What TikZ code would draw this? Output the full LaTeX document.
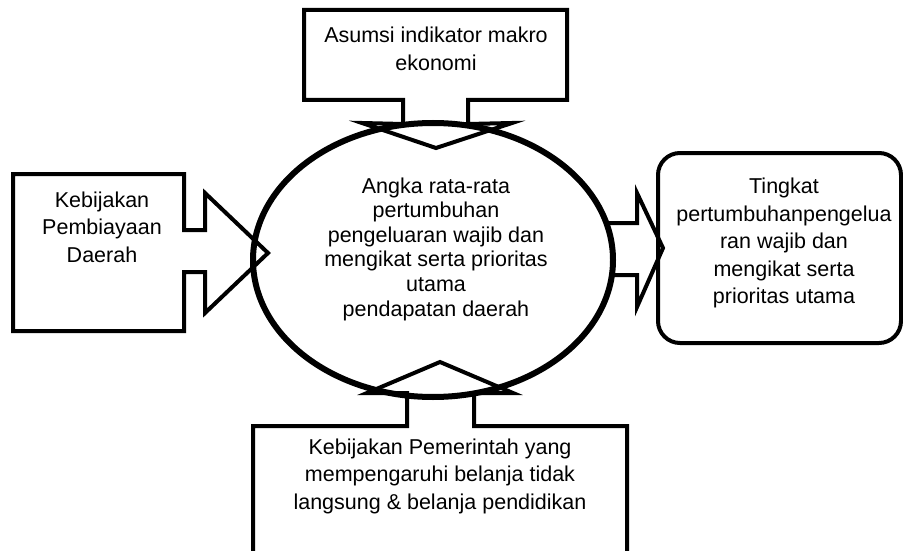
\documentclass[tikz,border=0pt]{standalone}
\usepackage{fontspec}
\setmainfont{Liberation Sans}
\usetikzlibrary{shapes.geometric}
\tikzset{
  kotak/.style={draw=black, fill=white, line width=4pt, line join=miter},
  isi/.style={align=center, font=\fontsize{21.5}{27.5}\selectfont},
  isirapat/.style={align=center, font=\fontsize{21.5}{24.6}\selectfont}
}
\begin{document}
\begin{tikzpicture}[x=1pt, y=-1pt]
  \useasboundingbox (0,0) rectangle (903,551);
  \clip (0,0) rectangle (903,551);
  \draw[kotak]
    (595,223) -- (637,223) -- (637,193) -- (663,248) -- (637,307) -- (637,275) -- (595,275);
  \node[draw, ellipse, line width=6pt, fill=white, inner sep=0pt,
    minimum width=360pt, minimum height=274pt] (pusat) at (433,260) {};
  \node[isirapat] (teks pusat) at (436,249)
    {Angka rata-rata\\pertumbuhan\\pengeluaran wajib dan\\mengikat serta prioritas\\utama\\pendapatan daerah};
  \begin{scope}[kotak]
    \draw (304,10) -- (567,10) -- (567,100) -- (468,100) -- (468,124) -- (512,123)
      -- (436,148) -- (362,123) -- (403,124) -- (403,100) -- (304,100) -- cycle;
    \draw (13,174) -- (184,174) -- (184,230) -- (205,230) -- (205,193) -- (268,253)
      -- (205,313) -- (205,272) -- (184,272) -- (184,331) -- (13,331) -- cycle;
    \draw (253,565) -- (253,426) -- (407,426) -- (407,393) -- (367,393) -- (440,362)
      -- (513,393) -- (474,393) -- (474,426) -- (627,426) -- (627,565) -- cycle;
  \end{scope}
  \draw[line width=4pt, rounded corners=22pt] (658,153) rectangle (901,343);
  \draw
    (436,49) node[isi] (asumsi){Asumsi indikator makro\\ekonomi}
    (102,227) node[isi] (kebijakan){Kebijakan\\Pembiayaan\\Daerah}
    (784,243) node[isi] (tingkat){Tingkat\\pertumbuhanpengelua\\ran wajib dan\\mengikat serta\\prioritas utama}
    (440,476) node[isi] (pemerintah){Kebijakan Pemerintah yang\\mempengaruhi belanja tidak\\langsung \& belanja pendidikan};
\end{tikzpicture}
\end{document}
